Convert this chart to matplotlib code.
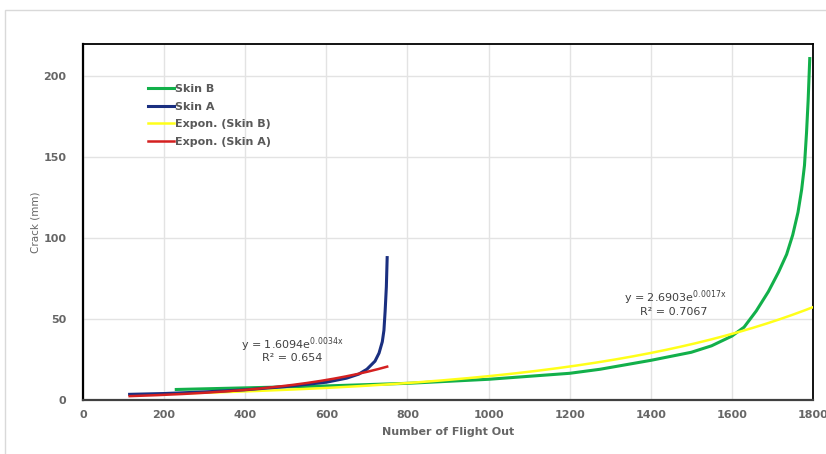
import numpy as np
import matplotlib
matplotlib.use("Agg")
import matplotlib.pyplot as plt
from matplotlib.patches import Rectangle

# Data
skin_a_x = [115, 200, 300, 400, 500, 600, 650, 680, 700, 720, 730, 738, 742, 745, 748, 750]
skin_a_y = [3.5, 4.0, 5.0, 6.3, 8.3, 11.0, 13.5, 16.0, 19.0, 24.0, 29.0, 36.0, 43.0, 55.0, 70.0, 88.0]

skin_b_x = [230, 400, 600, 800, 1000, 1200, 1275, 1400, 1500, 1550, 1600, 1630, 1660, 1690, 1715,
            1735, 1750, 1763, 1772, 1779, 1784, 1788, 1792]
skin_b_y = [6.5, 7.5, 8.7, 10.3, 12.8, 16.5, 19.0, 24.5, 29.5, 33.5, 39.5, 45.0, 55.0, 67.0, 79.0,
            90.0, 102.0, 116.0, 130.0, 145.0, 165.0, 185.0, 211.0]

# Trendline coefficients shown on the chart
trend_a_coef = (1.6094, 0.0034)
trend_a_range = (115, 750)
trend_b_coef = (2.6903, 0.0017)
trend_b_range = (230, 1800)

x_ticks = [0, 200, 400, 600, 800, 1000, 1200, 1400, 1600, 1800]
y_ticks = [0, 50, 100, 150, 200]

fig = plt.figure(figsize=(8.26, 4.54), dpi=100)
fig.patch.set_facecolor("white")
fig.add_artist(Rectangle((5/826, -0.1), 1.2, (454-10)/454 + 0.1, transform=fig.transFigure,
                         fill=False, edgecolor="#d9d9d9", linewidth=1.0))

ax = fig.add_axes([83/826, 54/454, 730/826, 356/454])
ax.set_xlim(0, 1800)
ax.set_ylim(0, 220)
ax.set_xticks(x_ticks)
ax.set_yticks(y_ticks)
ax.grid(True, color="#e3e3e3", linewidth=1.0)
ax.set_axisbelow(True)

tx = np.linspace(*trend_b_range, 300)
ty = trend_b_coef[0] * np.exp(trend_b_coef[1] * tx)
txa = np.linspace(*trend_a_range, 300)
tya = trend_a_coef[0] * np.exp(trend_a_coef[1] * txa)

l_b, = ax.plot(skin_b_x, skin_b_y, color="#12b04a", linewidth=2.2, label="Skin B", zorder=3)
l_a, = ax.plot(skin_a_x, skin_a_y, color="#1a2f80", linewidth=2.2, label="Skin A", zorder=4)
l_tb, = ax.plot(tx, ty, color="#ffff1a", linewidth=1.8, label="Expon. (Skin B)", zorder=3.5)
l_ta, = ax.plot(txa, tya, color="#d42020", linewidth=1.8, label="Expon. (Skin A)", zorder=5)

for s in ["top", "right", "left"]:
    ax.spines[s].set_color("black")
    ax.spines[s].set_linewidth(1.3)
ax.spines["left"].set_linewidth(1.6)
ax.spines["bottom"].set_color("#404040")
ax.spines["bottom"].set_linewidth(1.6)

ax.tick_params(length=0, labelsize=8, labelcolor="#666666")
ax.tick_params(axis="y", pad=12)
ax.tick_params(axis="x", pad=7)
for lbl in ax.get_xticklabels() + ax.get_yticklabels():
    lbl.set_fontweight("bold")

ax.set_xlabel("Number of Flight Out", fontsize=8, color="#666666", fontweight="bold", labelpad=5)
ax.set_ylabel("Crack (mm)", fontsize=7.5, color="#666666", labelpad=2)

leg = ax.legend(handles=[l_b, l_a, l_tb, l_ta], loc="upper left", bbox_to_anchor=(0.083, 0.90),
                frameon=False, fontsize=8, handlelength=2.3, handletextpad=0.1,
                labelspacing=0.68, borderaxespad=0)
for t in leg.get_texts():
    t.set_color("#595959")
    t.set_fontweight("bold")


def px2data(px, py):
    return ((px - 83) / 730 * 1800, (400 - py) / 356 * 220)


x1, y1 = px2data(241, 345)
ax.text(x1, y1, r"y = 1.6094e$^{\mathregular{0.0034x}}$", fontsize=8, color="#404040", va="center", ha="left")
x2, y2 = px2data(262, 358)
ax.text(x2, y2, "R² = 0.654", fontsize=8, color="#404040", va="center", ha="left")
x3, y3 = px2data(624, 298)
ax.text(x3, y3, r"y = 2.6903e$^{\mathregular{0.0017x}}$", fontsize=8, color="#404040", va="center", ha="left")
x4, y4 = px2data(640, 312)
ax.text(x4, y4, "R² = 0.7067", fontsize=8, color="#404040", va="center", ha="left")

fig.savefig("out.png", dpi=100, facecolor="white")
